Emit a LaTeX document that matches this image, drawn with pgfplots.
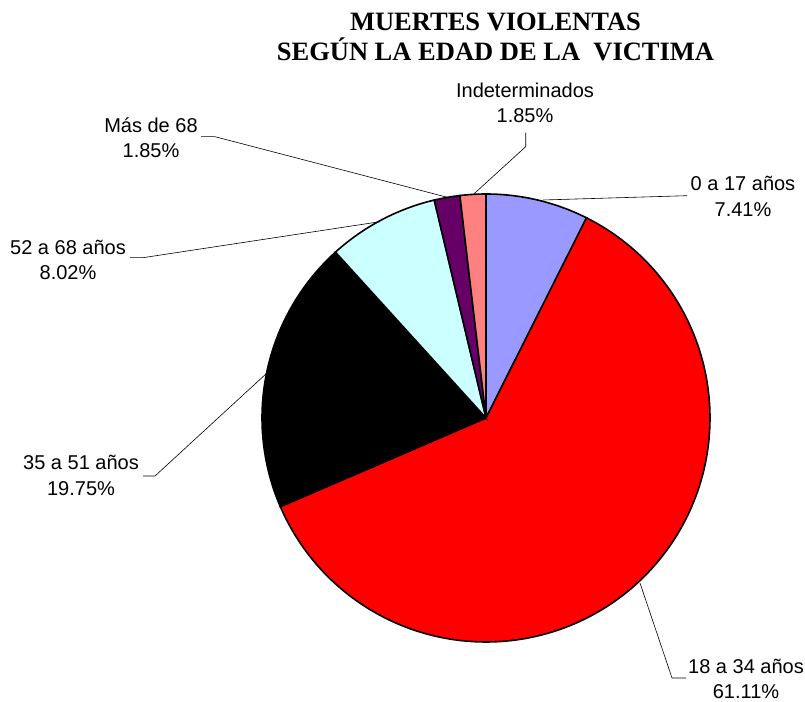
\documentclass[border=0pt]{standalone}
\usepackage{pgfplots}
\pgfplotsset{compat=1.18}
\usepackage{fontspec}
\setmainfont{Liberation Sans}
\newfontfamily\titlefont{Liberation Serif}

\definecolor{cA}{HTML}{9999FF}
\definecolor{cB}{HTML}{FF0000}
\definecolor{cC}{HTML}{000000}
\definecolor{cD}{HTML}{CCFFFF}
\definecolor{cE}{HTML}{660066}
\definecolor{cF}{HTML}{FF8080}

% percentages (clockwise from top)
\def\pA{7.41}  % 0 a 17 años
\def\pB{61.11} % 18 a 34 años
\def\pC{19.75} % 35 a 51 años
\def\pD{8.02}  % 52 a 68 años
\def\pE{1.85}  % Más de 68
\def\pF{1.85}  % Indeterminados

\pgfmathsetmacro\tA{90}
\pgfmathsetmacro\tB{\tA-3.6*\pA}
\pgfmathsetmacro\tC{\tB-3.6*\pB}
\pgfmathsetmacro\tD{\tC-3.6*\pC}
\pgfmathsetmacro\tE{\tD-3.6*\pD}
\pgfmathsetmacro\tF{\tE-3.6*\pE}
\pgfmathsetmacro\tG{\tF-3.6*\pF}

\def\cx{486}
\def\cy{284}
\def\R{224}

\begin{document}
\begin{tikzpicture}
\begin{axis}[x=1bp,y=1bp,xmin=0,xmax=805,ymin=0,ymax=702,
  hide axis, clip=false,
  every axis plot/.append style={mark=none}]
\addplot[fill=cA, draw=black, line width=1.6bp, domain=\tB:\tA, samples=30, variable=\t]
  ({\cx+\R*cos(\t)},{\cy+\R*sin(\t)}) -- (axis cs:\cx,\cy) -- cycle;
\addplot[fill=cB, draw=black, line width=1.6bp, domain=\tC:\tB, samples=150, variable=\t]
  ({\cx+\R*cos(\t)},{\cy+\R*sin(\t)}) -- (axis cs:\cx,\cy) -- cycle;
\addplot[fill=cC, draw=black, line width=1.6bp, domain=\tD:\tC, samples=60, variable=\t]
  ({\cx+\R*cos(\t)},{\cy+\R*sin(\t)}) -- (axis cs:\cx,\cy) -- cycle;
\addplot[fill=cD, draw=black, line width=1.6bp, domain=\tE:\tD, samples=30, variable=\t]
  ({\cx+\R*cos(\t)},{\cy+\R*sin(\t)}) -- (axis cs:\cx,\cy) -- cycle;
\addplot[fill=cE, draw=black, line width=1.6bp, domain=\tF:\tE, samples=10, variable=\t]
  ({\cx+\R*cos(\t)},{\cy+\R*sin(\t)}) -- (axis cs:\cx,\cy) -- cycle;
\addplot[fill=cF, draw=black, line width=1.6bp, domain=\tG:\tF, samples=10, variable=\t]
  ({\cx+\R*cos(\t)},{\cy+\R*sin(\t)}) -- (axis cs:\cx,\cy) -- cycle;

% leader lines
\addplot[black, line width=0.6bp] coordinates {(525.7,569.3) (525.7,555.3) (472.7,507)};
\addplot[black, line width=0.6bp] coordinates {(201,565.3) (215,565.3) (448,504.5)};
\addplot[black, line width=0.6bp] coordinates {(130,444.3) (143,444.3) (380,480.3)};
\addplot[black, line width=0.6bp] coordinates {(543,502) (687,506.3)};
\addplot[black, line width=0.6bp] coordinates {(143,226) (155,226) (267,329)};
\addplot[black, line width=0.6bp] coordinates {(640,119) (672,24) (686,24)};

% labels
\begin{scope}[every node/.style={align=center, inner sep=0pt, font={\fontsize{20bp}{25.5bp}\selectfont}}]
\node at (axis cs:525,599) {Indeterminados\\1.85\%};
\node at (axis cs:151,564.5) {Más de 68\\1.85\%};
\node at (axis cs:743,505.5) {0 a 17 años\\7.41\%};
\node at (axis cs:68,442.3) {52 a 68 años\\8.02\%};
\node at (axis cs:81,226.7) {35 a 51 años\\19.75\%};
\node at (axis cs:746,23) {18 a 34 años\\61.11\%};
\end{scope}

\node[align=center, inner sep=0pt, font={\titlefont\bfseries\fontsize{26.5bp}{30bp}\selectfont}]
  at (axis cs:495.5,665) {MUERTES VIOLENTAS\\SEGÚN LA EDAD DE LA\ \ VICTIMA};
\end{axis}
\pgfresetboundingbox
\path (current axis.south west) rectangle (current axis.north east);
\end{tikzpicture}
\end{document}
